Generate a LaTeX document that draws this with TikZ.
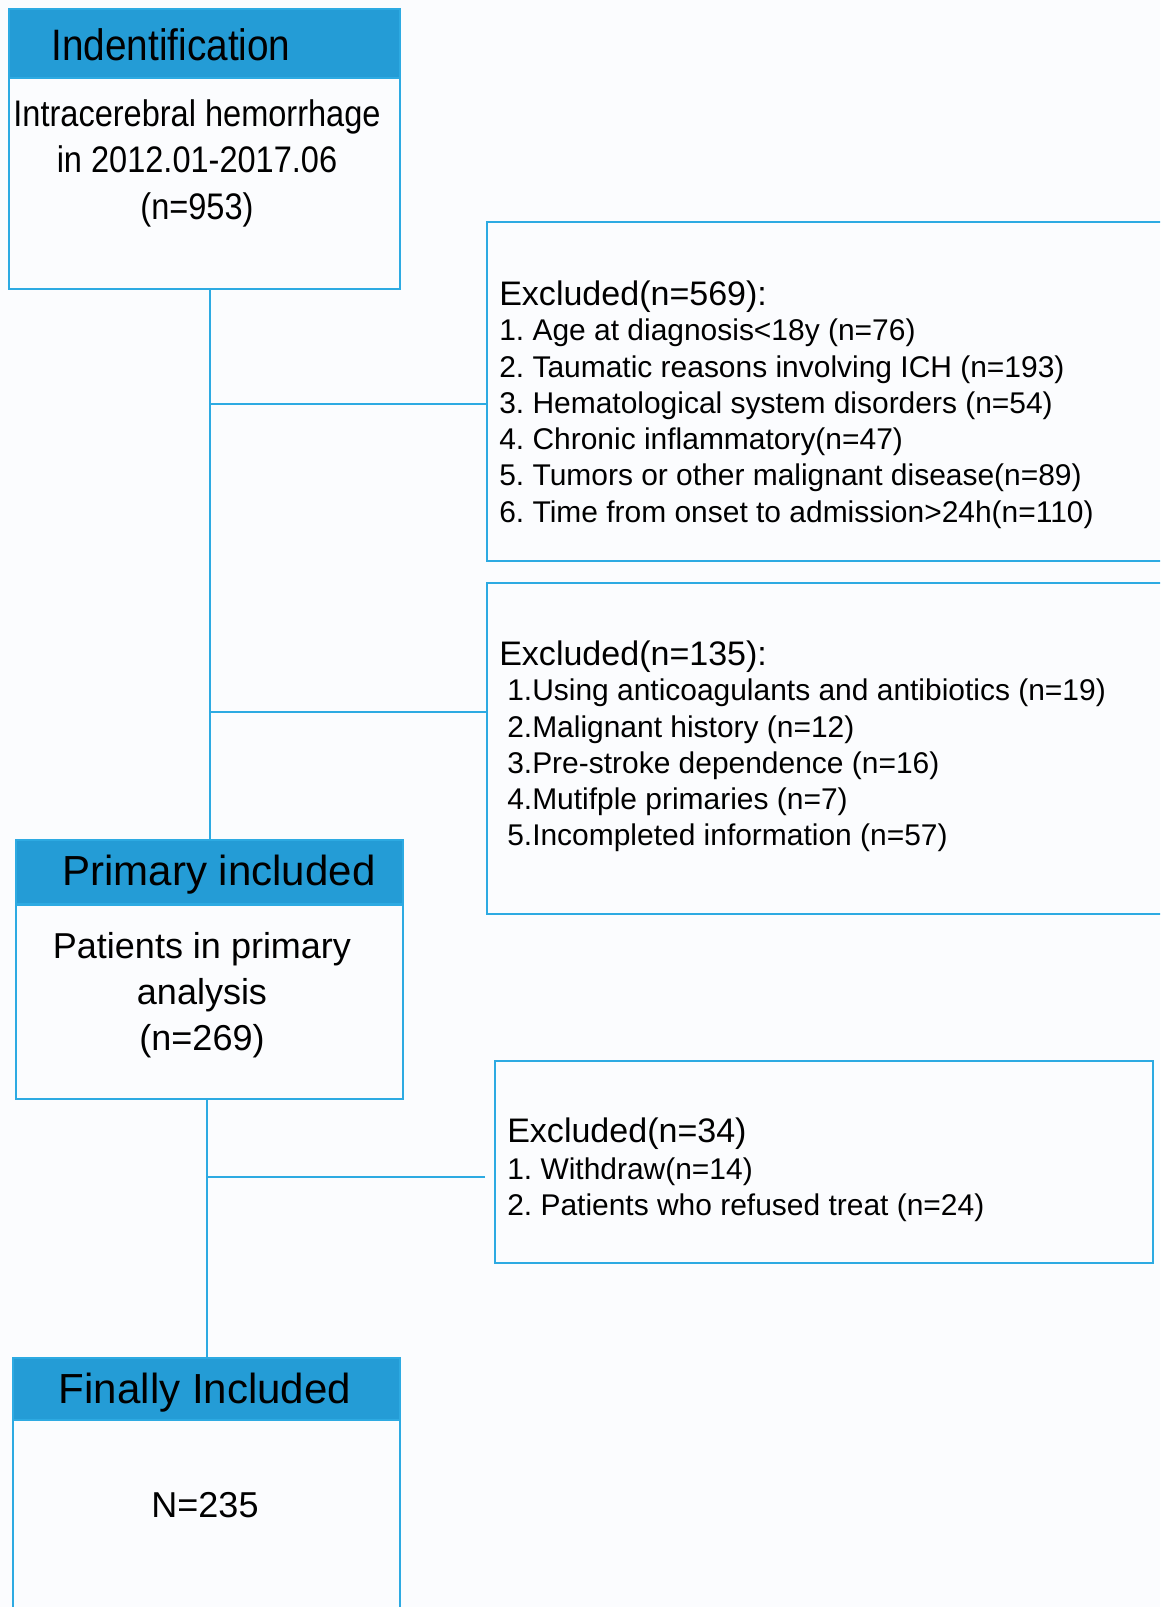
\documentclass[tikz,border=0pt]{standalone}
\usepackage{fontspec}
\setmainfont{Liberation Sans}
\newfontfamily\narrowsans{Liberation Sans}[FakeStretch=0.88]
\usepackage{xcolor}
\definecolor{c1}{RGB}{36,156,214}
\definecolor{c2}{RGB}{45,170,226}
\definecolor{c3}{RGB}{251,252,254}
\frenchspacing

\begin{document}
\begin{tikzpicture}[
    x=0.025cm, y=-0.025cm,
    hdr/.style={fill=c1, draw=c2, line width=1.5pt, anchor=north west, inner sep=0pt},
    box/.style={draw=c2, line width=1.5pt, anchor=north west, inner sep=0pt},
    htext/.style={anchor=base, inner sep=0pt, font=\fontsize{29.9}{32}\selectfont},
    btext/.style={align=center, inner sep=0pt, font=\fontsize{25.6}{32.7}\selectfont},
    xhead/.style={anchor=base west, inner sep=0pt, font=\fontsize{24.2}{28}\selectfont},
    xlist/.style={anchor=north west, inner sep=0pt, align=left, font=\fontsize{21.3}{25.75}\selectfont},
    conn/.style={draw=c2, line width=1.5pt}
]
\clip (0,0) rectangle (1160,1607);
\fill[c3] (0,0) rectangle (1160,1607);

% identification
\node[hdr, minimum width=9.775cm, minimum height=1.725cm] (idhead) at (8,8) {};
\node[htext, font=\narrowsans\fontsize{31.3}{34}\selectfont] (idtitle) at (171,60) {Indentification};
\node[box, minimum width=9.775cm, minimum height=5.275cm] (idbox) at (8,77) {};
\node[btext, font=\narrowsans\fontsize{26.3}{33.1}\selectfont] (idtxt) at (197,163)
    {Intracerebral hemorrhage\\in 2012.01-2017.06\\(n=953)};

% excluded boxes
\node[box, minimum width=16.9cm, minimum height=8.475cm] (ex1) at (486,221) {};
\node[xhead] (ex1head) at (499,305) {Excluded(n=569):};
\node[xlist] (ex1list) at (499,319) {1. Age at diagnosis<18y (n=76)\\
    2. Taumatic reasons involving ICH (n=193)\\
    3. Hematological system disorders (n=54)\\
    4. Chronic inflammatory(n=47)\\
    5. Tumors or other malignant disease(n=89)\\
    6. Time from onset to admission>24h(n=110)};

\node[box, minimum width=16.9cm, minimum height=8.275cm] (ex2) at (486,582) {};
\node[xhead] (ex2head) at (499,665) {Excluded(n=135):};
\node[xlist] (ex2list) at (507,679) {1.Using anticoagulants and antibiotics (n=19)\\
    2.Malignant history (n=12)\\
    3.Pre-stroke dependence (n=16)\\
    4.Mutifple primaries (n=7)\\
    5.Incompleted information (n=57)};

% primary included
\node[hdr, minimum width=9.675cm, minimum height=1.6cm] (prihead) at (15,839) {};
\node[htext] (prititle) at (219,885) {Primary included};
\node[box, minimum width=9.675cm, minimum height=4.85cm] (pribox) at (15,904) {};
\node[btext] (pritxt) at (202,995) {Patients in primary\\analysis\\(n=269)};

\node[box, minimum width=16.45cm, minimum height=5.05cm] (ex3) at (494,1060) {};
\node[xhead] (ex3head) at (507,1142) {Excluded(n=34)};
\node[xlist] (ex3list) at (507,1157) {1. Withdraw(n=14)\\
    2. Patients who refused treat (n=24)};

% finally included
\node[hdr, minimum width=9.675cm, minimum height=1.55cm] (finhead) at (12,1357) {};
\node[htext] (fintitle) at (205,1403) {Finally Included};
\node[box, minimum width=9.675cm, minimum height=5cm] (finbox) at (12,1419) {};
\node[btext] (fintxt) at (205,1505) {N=235};

% connectors
\coordinate (j1) at (0,404);
\coordinate (j2) at (0,712);
\coordinate (j3) at (485,1177);
\draw[conn] (prihead.north) -- (prihead.north |- idbox.south);
\draw[conn] (prihead.north |- j1) -- (ex1.west |- j1);
\draw[conn] (prihead.north |- j2) -- (ex2.west |- j2);
\draw[conn] (finhead.north) -- (finhead.north |- pribox.south);
\draw[conn] (j3) -- (j3 -| finhead.north);
\end{tikzpicture}
\end{document}
